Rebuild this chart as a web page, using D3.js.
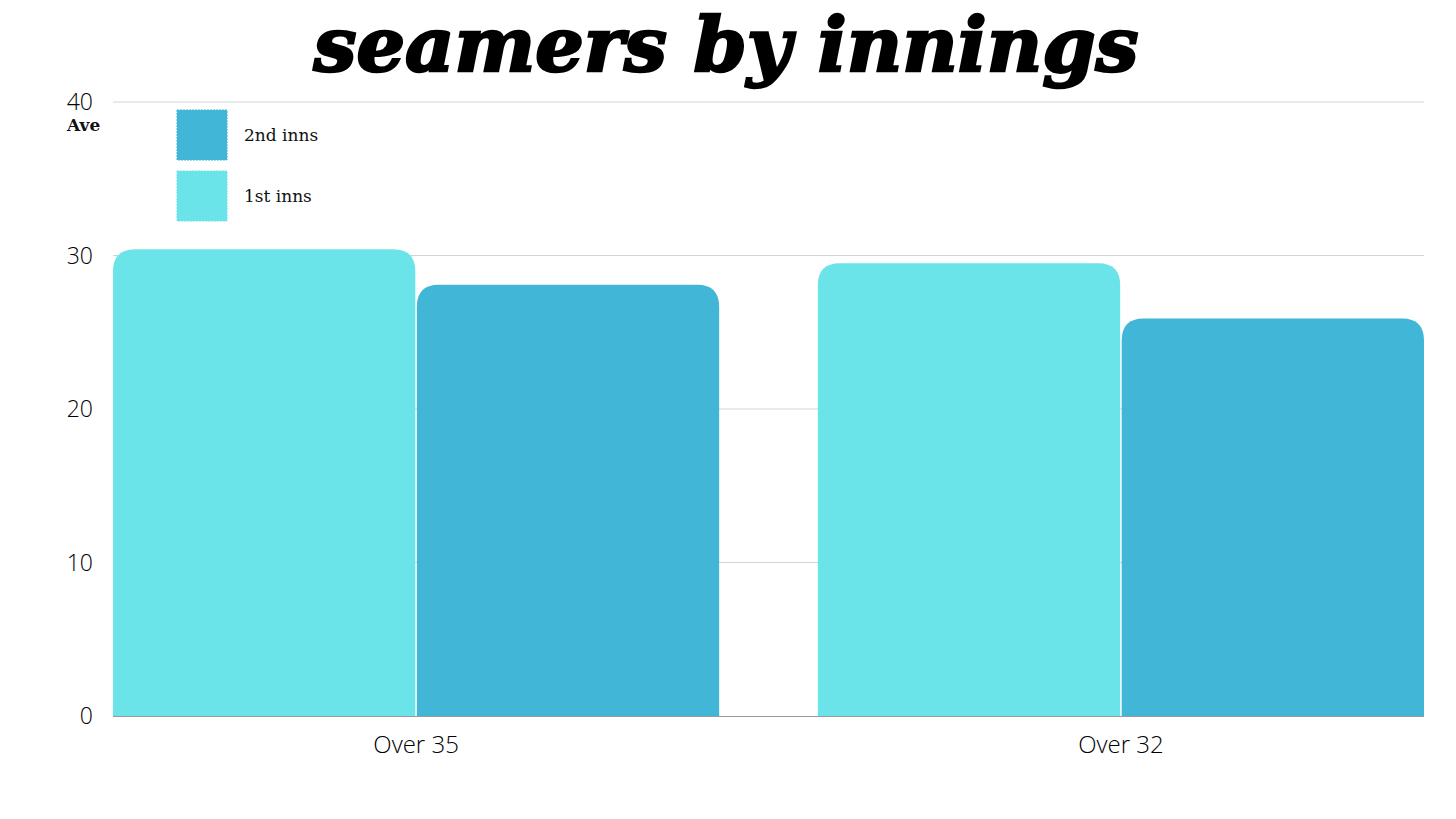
<!DOCTYPE html>
<html><head><meta charset="utf-8">
<script src="https://cdn.jsdelivr.net/npm/d3@7"></script>
<style>
html,body{margin:0;padding:0;background:#fff;}
svg{display:block;}
</style></head>
<body>
<svg id="chart" width="1456" height="819"></svg>
<script>
const categories = ["Over 35", "Over 32"];
const seriesNames = ["1st inns", "2nd inns"];
const firstInns = [30.4, 29.5];
const secondInns = [28.1, 25.9];
const yTicks = [0, 10, 20, 30, 40];
const colors = ["#6ae4e8", "#42b6d6"];

const svg = d3.select("#chart");
const margin = {left: 113, right: 32, top: 102, bottom: 103};
const W = 1456, H = 819;

const x0 = d3.scaleBand().domain(categories).range([margin.left, W - margin.right]).paddingInner(0.14).paddingOuter(0);
const x1 = d3.scaleBand().domain(seriesNames).range([0, x0.bandwidth()]).paddingInner(0.005);
const y = d3.scaleLinear().domain([0, 40]).range([H - margin.bottom, margin.top]);

// gridlines
svg.append("g").selectAll("line").data(yTicks.filter(d => d > 0)).join("line")
  .attr("x1", margin.left).attr("x2", W - margin.right)
  .attr("y1", d => y(d)).attr("y2", d => y(d))
  .attr("stroke", "#d4d4d4").attr("stroke-width", 1);

// y tick labels
svg.append("g").selectAll("text").data(yTicks).join("text")
  .attr("x", 93).attr("y", d => y(d)).attr("dy", "0.36em")
  .attr("text-anchor", "end")
  .attr("font-family", "'Open Sans', sans-serif").attr("font-weight", 300)
  .attr("font-size", 23).attr("fill", "#000")
  .text(d => d);

svg.append("text").attr("x", 67).attr("y", 131)
  .attr("font-family", "'DejaVu Serif', serif").attr("font-size", 17).attr("font-weight", 600)
  .attr("fill", "#111").text("Ave");

// bars
function topRounded(x, yTop, w, h, r) {
  r = Math.min(r, w / 2, h);
  return `M${x},${yTop + h}V${yTop + r}Q${x},${yTop} ${x + r},${yTop}H${x + w - r}Q${x + w},${yTop} ${x + w},${yTop + r}V${yTop + h}Z`;
}
const data = categories.map((c, i) => ({cat: c, vals: [firstInns[i], secondInns[i]]}));
const groups = svg.append("g").selectAll("g").data(data).join("g")
  .attr("transform", d => `translate(${x0(d.cat)},0)`);
groups.selectAll("path").data(d => d.vals.map((v, j) => ({s: seriesNames[j], v, j}))).join("path")
  .attr("d", d => topRounded(x1(d.s), y(d.v), x1.bandwidth(), y(0) - y(d.v), 22))
  .attr("fill", d => colors[d.j]);

// baseline
svg.append("line").attr("x1", margin.left).attr("x2", W - margin.right)
  .attr("y1", y(0) + 0.5).attr("y2", y(0) + 0.5).attr("stroke", "#9a9a9a").attr("stroke-width", 1);

// x labels
svg.append("g").selectAll("text").data(categories).join("text")
  .attr("x", d => x0(d) + x0.bandwidth() / 2).attr("y", 753)
  .attr("text-anchor", "middle")
  .attr("font-family", "'Open Sans', sans-serif").attr("font-weight", 300)
  .attr("font-size", 24).attr("fill", "#000")
  .text(d => d);

// legend
const legendItems = [{name: seriesNames[1], color: colors[1]}, {name: seriesNames[0], color: colors[0]}];
const lg = svg.append("g").selectAll("g").data(legendItems).join("g")
  .attr("transform", (d, i) => `translate(177,${110 + i * 61})`);
lg.append("rect").attr("width", 50).attr("height", 50).attr("fill", d => d.color)
  .attr("stroke", d => d.color).attr("stroke-width", 1).attr("stroke-dasharray", "2,1");
lg.append("text").attr("x", 67).attr("y", 25).attr("dy", "0.35em")
  .attr("font-family", "'DejaVu Serif', serif").attr("font-size", 17)
  .attr("fill", "#111").text(d => d.name);

// title
svg.append("text").attr("x", 726).attr("y", 71).attr("text-anchor", "middle")
  .attr("font-family", "'DejaVu Serif', serif").attr("font-weight", "bold").attr("font-style", "italic")
  .attr("font-size", 74).attr("textLength", 825).attr("lengthAdjust", "spacingAndGlyphs")
  .attr("stroke", "#000").attr("stroke-width", 2.5)
  .attr("fill", "#000").text("seamers by innings");
</script>
</body></html>
